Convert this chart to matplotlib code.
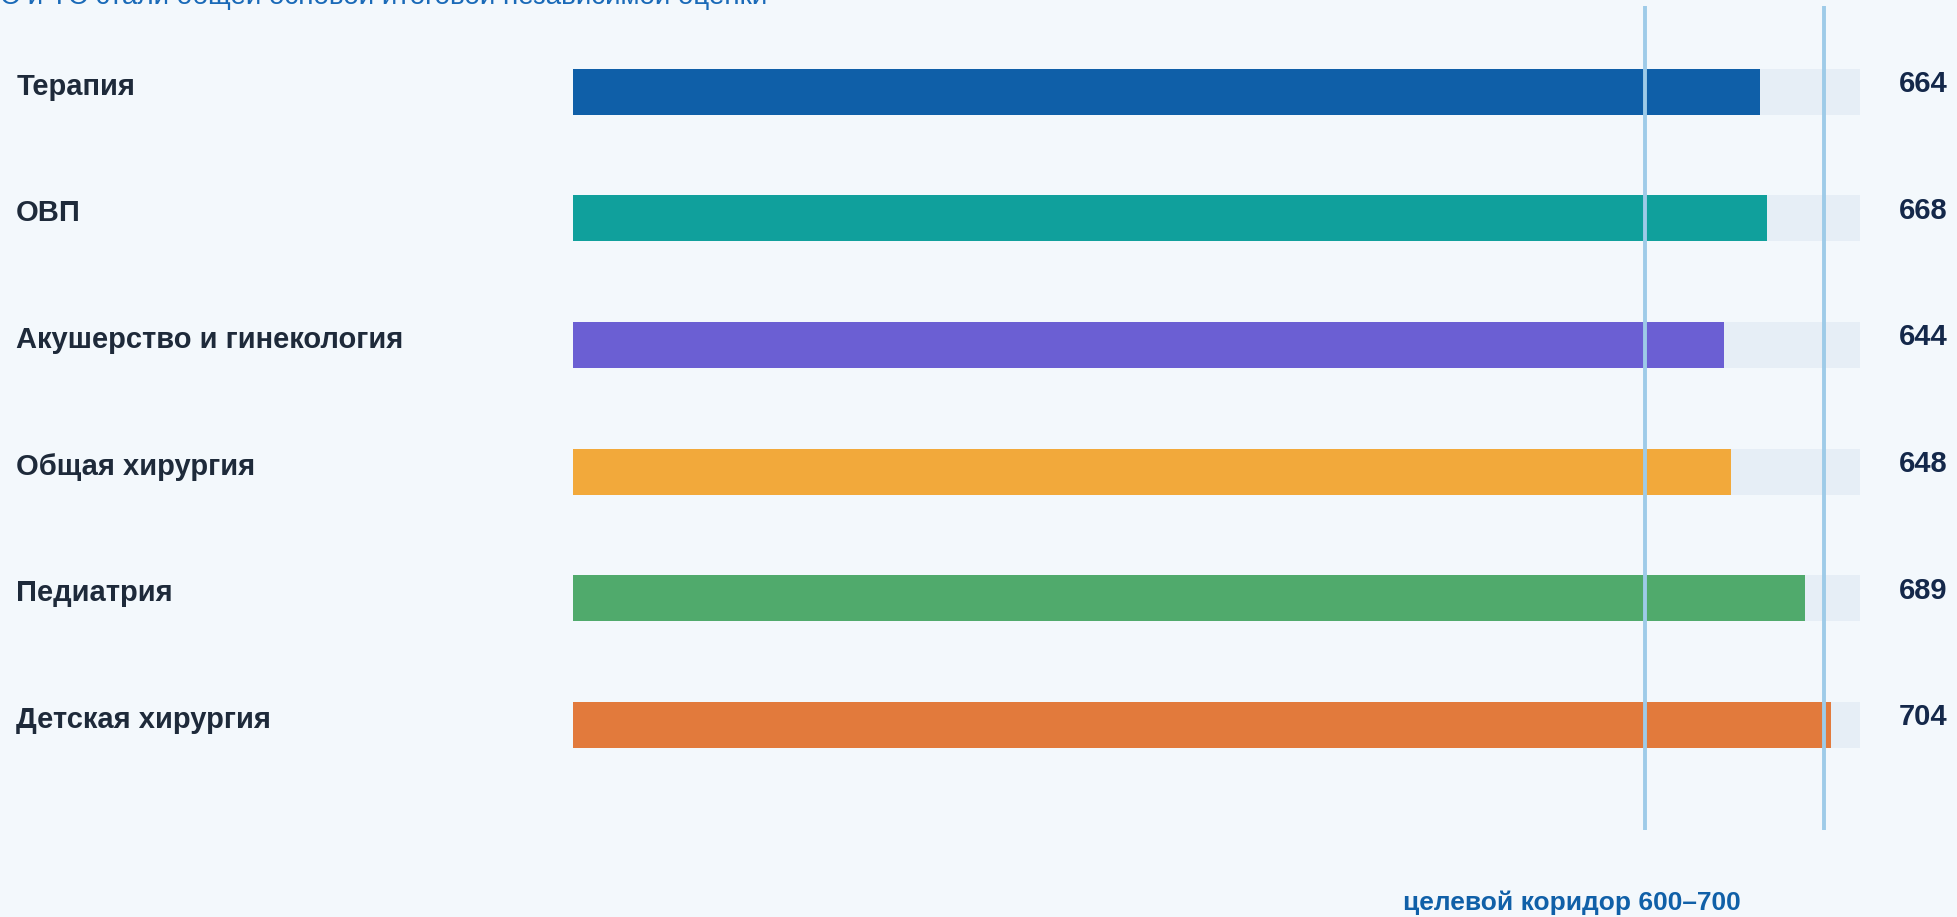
import matplotlib
matplotlib.use('Agg')
import matplotlib.pyplot as plt
import matplotlib.transforms as mtransforms

plt.rcParams['font.family'] = ['Liberation Sans', 'DejaVu Sans']

categories = ['Терапия', 'ОВП', 'Акушерство и гинекология', 'Общая хирургия',
              'Педиатрия', 'Детская хирургия']
values = [664, 668, 644, 648, 689, 704]
colors = ['#0f5fa8', '#10a09c', '#6b5fd3', '#f2a93b', '#50aa6c', '#e27a3c']
track_max = 720
corridor = [600, 700]
top_text = 'С и ТС стали общей основой итоговой независимой оценки'
corridor_text = 'целевой коридор 600–700'

bg = '#f3f8fc'
fig = plt.figure(figsize=(19.57, 9.17), dpi=100, facecolor=bg)
ax = fig.add_axes([0.2928, 0.0949, 0.9504 - 0.2928, 0.9935 - 0.0949])
ax.set_facecolor(bg)

ypos = list(range(len(categories)))
bh = 0.365
ax.barh(ypos, [track_max] * len(values), height=bh, color='#e6eef6', zorder=1)
ax.barh(ypos, values, height=bh, color=colors, zorder=2)
for c in corridor:
    ax.axvline(c, color='#9ecbe8', lw=2.8, zorder=3)

ax.set_xlim(0, track_max)
ax.set_ylim(5.829, -0.677)
ax.axis('off')

# labels sit a little above the bar centre in the reference
tr = mtransforms.blended_transform_factory(fig.transFigure, ax.transData)
for y, cat, v in zip(ypos, categories, values):
    fig.text(0.0083, y - 0.04, cat, transform=tr, ha='left', va='center',
             fontsize=21, fontweight='bold', color='#1e2a3a')
    fig.text(0.995, y - 0.06, str(v), transform=tr, ha='right', va='center',
             fontsize=21, fontweight='bold', color='#14284a')

fig.text(0.803, 0.0155, corridor_text, ha='center', va='center',
         fontsize=19, fontweight='bold', color='#1060a8')
fig.text(0.0, 1 - 4 / 917, top_text, ha='left', va='baseline',
         fontsize=20, color='#1a6ab8')

fig.savefig('out.png', dpi=100, facecolor=bg)
